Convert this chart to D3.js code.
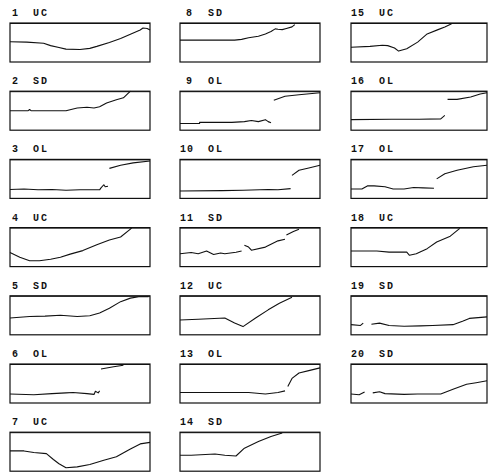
<!DOCTYPE html>
<html>
<head>
<meta charset="utf-8">
<script src="https://cdn.jsdelivr.net/npm/d3@7"></script>
<style>
  body { margin: 0; background: #fff; }
  text { font-family: "Liberation Mono", "DejaVu Sans Mono", monospace; font-size: 10px; font-weight: bold; fill: #111; }
</style>
</head>
<body>
<div id="chart"></div>
<script>
// panel ids and curve types, read top to bottom, column by column
const panelIds = [1, 2, 3, 4, 5, 6, 7, 8, 9, 10, 11, 12, 13, 14, 15, 16, 17, 18, 19, 20];
const panelTypes = ["UC", "SD", "OL", "UC", "SD", "OL", "UC",
                    "SD", "OL", "OL", "SD", "UC", "OL", "SD",
                    "UC", "OL", "OL", "UC", "SD", "SD"];

// each curve: [x %, y %] points, null = break in the trace
const curves = [
  // 1 UC
  [[0,52],[12,51],[24,48],[29,42],[35,37],[40,33],[50,32],[57,35],[62,40],[71,50],[79,60],[86,71],[93,82],[95,87],[98,86],[100,82]],
  // 2 SD
  [[0,50],[13,50],[14,53],[15,50],[40,50],[48,57],[55,59],[60,57],[64,60],[69,70],[76,78],[81,83],[86,100]],
  // 3 OL
  [[0,23],[10,24],[20,22],[30,23],[40,21],[50,22],[60,22],[64,22],[65,27],[67,35],[68,30],[70,31],null,
   [71,77],[79,85],[88,91],[100,96]],
  // 4 UC
  [[0,36],[7,24],[14,15],[21,15],[29,19],[36,24],[43,32],[52,41],[62,56],[71,68],[79,76],[86,96],[87,100]],
  // 5 SD
  [[0,43],[14,47],[25,48],[36,50],[48,47],[57,49],[64,56],[71,68],[79,85],[86,94],[93,98],[99,98]],
  // 6 OL
  [[0,23],[17,21],[30,24],[40,26],[45,27],[55,24],[60,22],[61,30],[63,26],[64,31],null,
   [65,87],[74,93],[81,97]],
  // 7 UC
  [[0,52],[10,52],[17,48],[26,45],[31,30],[35,19],[40,9],[48,11],[57,17],[67,28],[76,37],[86,57],[93,70],[100,74]],
  // 8 SD
  [[0,56],[39,56],[44,58],[49,62],[56,66],[61,72],[65,78],[68,85],[70,84],[73,83],[76,86],[80,90],[82,96]],
  // 9 OL
  [[0,17],[14,17],[14,20],[37,20],[46,22],[51,25],[56,22],[61,27],[63,22],[65,19],null,
   [67,77],[75,87],[85,91],[100,96]],
  // 10 OL
  [[0,19],[30,20],[45,21],[63,23],[70,22],[79,25],null,
   [80,59],[85,72],[92,78],[100,85]],
  // 11 SD
  [[0,33],[8,36],[13,33],[19,40],[24,31],[29,35],[32,33],[40,37],[44,40],null,
   [46,55],[49,50],[51,42],[61,50],[70,66],[75,70],null,[76,81],[81,90],[85,96]],
  // 12 UC
  [[0,38],[13,40],[32,43],[39,30],[45,21],[54,43],[63,64],[71,81],[80,96]],
  // 13 OL
  [[0,27],[49,27],[61,23],[70,27],[75,31],null,
   [77,42],[80,63],[85,77],[92,83],[100,90]],
  // 14 SD
  [[0,41],[8,41],[25,44],[32,41],[40,39],[46,59],[56,76],[65,89],[73,98]],
  // 15 UC
  [[0,38],[14,40],[23,43],[27,42],[32,36],[35,28],[41,34],[49,51],[56,72],[64,83],[69,90],[74,98]],
  // 16 OL
  [[0,27],[30,28],[50,28],[66,29],[69,38],null,
   [71,79],[78,79],[88,85],[95,93],[100,96]],
  // 17 OL
  [[0,24],[8,24],[12,32],[17,32],[25,30],[31,24],[39,24],[46,28],[53,27],[61,26],null,
   [63,50],[69,63],[78,72],[90,81],[100,85]],
  // 18 UC
  [[0,40],[19,40],[28,37],[41,37],[43,29],[48,33],[56,46],[63,63],[73,78],[80,98]],
  // 19 SD
  [[0,26],[7,24],[9,30],null,
   [15,27],[21,30],[28,24],[39,22],[51,23],[60,24],[75,26],[82,35],[87,42],[100,46]],
  // 20 SD
  [[0,23],[6,21],[10,28],null,
   [16,26],[21,29],[25,24],[39,22],[49,23],[66,23],[75,35],[85,48],[92,52],[100,57]]
];

const width = 490, height = 473;
const colLeft = [10, 180, 351];
const colWidth = [140, 140, 136];
const rowTop0 = 23, rowStep = 68.2, boxH = 39;
const perCol = 7;

const svg = d3.select("#chart").append("svg")
    .attr("width", width)
    .attr("height", height);

const x = d3.scaleLinear().domain([0, 100]);
const y = d3.scaleLinear().domain([0, 100]).range([boxH, 0]);

panelIds.forEach((id, i) => {
    let col = Math.floor(i / perCol);
    let row = i % perCol;
    let left = colLeft[col];
    let top = rowTop0 + row * rowStep;
    let w = colWidth[col];
    x.range([0, w]);

    let g = svg.append("g").attr("transform", `translate(${left},${top})`);

    // panel label
    let numX = col === 0 ? 2 : (id < 10 ? 6 : 0);
    g.append("text").attr("x", numX).attr("y", -7).attr("letter-spacing", 1).text(id);
    g.append("text").attr("x", col === 0 ? 23 : 28).attr("y", -7).attr("letter-spacing", 2).text(panelTypes[i]);

    // box
    g.append("rect")
        .attr("width", w).attr("height", boxH)
        .attr("fill", "none").attr("stroke", "#111").attr("stroke-width", 1.2);
    g.append("line")
        .attr("x1", 0).attr("x2", w).attr("y1", 0.5).attr("y2", 0.5)
        .attr("stroke", "#111").attr("stroke-width", 1);

    let line = d3.line()
        .defined(d => d !== null)
        .x(d => x(d[0]))
        .y(d => y(d[1]));

    g.append("path")
        .datum(curves[i])
        .attr("d", line)
        .attr("fill", "none")
        .attr("stroke", "#111")
        .attr("stroke-width", 1.1)
        .attr("stroke-linejoin", "round");
});
</script>
</body>
</html>
